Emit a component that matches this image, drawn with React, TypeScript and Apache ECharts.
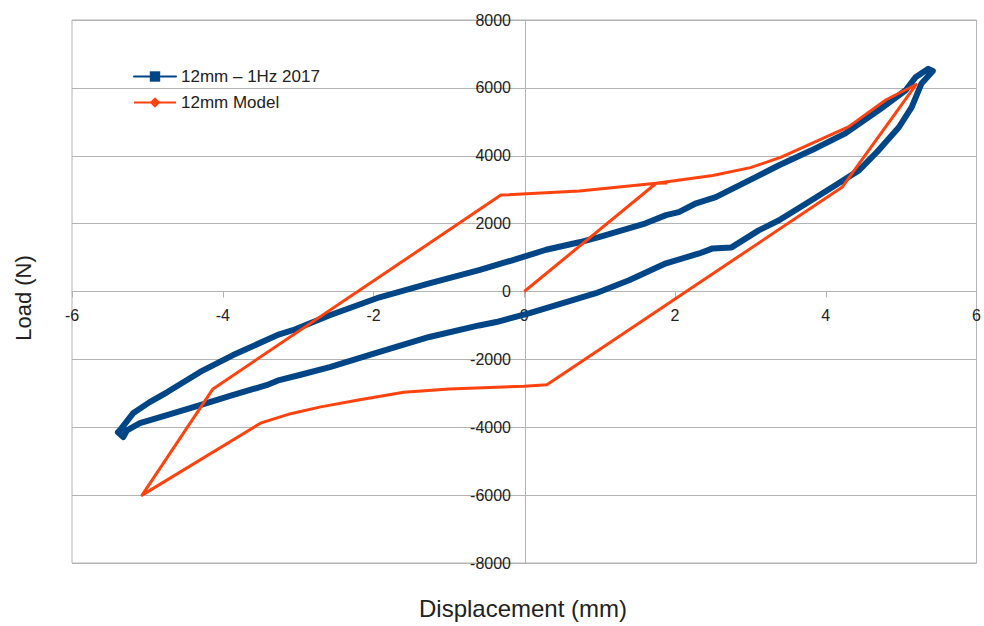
import React, { useEffect, useRef } from "react";
import * as echarts from "echarts";

const xTicks = { min: -6, max: 6, interval: 2 };
const yTicks = { min: -8000, max: 8000, interval: 2000 };

const seriesNames = ["12mm – 1Hz 2017", "12mm Model"];

// Measured hysteresis loop (displacement mm, load N)
const testX = [
  -5.39, -5.35, -5.19, -4.97, -4.74, -4.3, -3.87, -3.42, -3.25, -3.07, -2.58, -1.92, -1.26, -0.6, -0.16, 0.29, 0.73, 0.99,
  1.17, 1.61, 1.88, 2.05, 2.28, 2.54, 3.07, 3.38, 3.81, 4.26, 4.7, 5.06, 5.19, 5.36, 5.42,
  5.27, 5.14, 4.97, 4.7, 4.44, 4.17, 3.81, 3.38, 3.11, 2.75, 2.5, 2.32, 1.88, 1.39, 0.95, 0.5, 0.07, -0.37, -0.6,
  -1.26, -1.92, -2.58, -2.98, -3.25, -3.42, -3.87, -4.3, -4.74, -5.1, -5.27, -5.32, -5.39,
];
const testY = [
  -4150, -4050, -3590, -3260, -2970, -2370, -1880, -1430, -1260, -1140, -700, -170, 240, 630, 920, 1230, 1450, 1600,
  1720, 2010, 2250, 2340, 2600, 2780, 3370, 3720, 4160, 4660, 5340, 5930, 6310, 6560, 6500,
  6130, 5430, 4840, 4160, 3570, 3190, 2690, 2100, 1800, 1300, 1270, 1120, 830, 330, -50, -350, -640, -900, -1000,
  -1340, -1780, -2230, -2460, -2610, -2760, -3050, -3350, -3640, -3880, -4090, -4290, -4150,
];

// Model curve
const modelX = [
  0, 1.75, 2.5, 3.0, 3.4, 3.8, 4.3, 4.8, 5.2, 4.22, 0.3, 0, -1, -1.6, -2.2, -2.7, -3.1, -3.5, -5.07, -4.13, -0.31, 0.73,
  1.75, 1.9,
];
const modelY = [
  0, 3190, 3420, 3650, 3950, 4350, 4850, 5650, 6100, 3080, -2750, -2790, -2870, -2970, -3200, -3400, -3600, -3880, -6000,
  -2870, 2840, 2960, 3190, 3200,
];

const BLUE = "#004586";
const ORANGE = "#ff420e";
const GRID = "#b3b3b3";
const FONT = "Liberation Sans";

const GRID_LEFT = 72;
const GRID_RIGHT = 6;
const GRID_TOP = 20;
const GRID_BOTTOM = 63;
const CHART_W = 984;
const CHART_H = 626;

export default function App() {
  const ref = useRef<HTMLDivElement>(null);
  useEffect(() => {
    if (!ref.current) return;
    const chart = echarts.init(ref.current, null, { renderer: "svg" });
    const testData = testX.map((x, i) => [x, testY[i]]);
    const modelData = modelX.map((x, i) => [x, modelY[i]]);
    const plotW = CHART_W - GRID_LEFT - GRID_RIGHT;
    const plotH = CHART_H - GRID_TOP - GRID_BOTTOM;
    // axes cross at zero (middle of symmetric ranges)
    const xOffset = -plotH * ((0 - yTicks.min) / (yTicks.max - yTicks.min));
    const yOffset = -plotW * ((0 - xTicks.min) / (xTicks.max - xTicks.min));
    chart.setOption({
      animation: false,
      backgroundColor: "#ffffff",
      grid: {
        left: GRID_LEFT,
        right: GRID_RIGHT,
        top: GRID_TOP,
        bottom: GRID_BOTTOM,
        show: true,
        borderColor: GRID,
        borderWidth: 1,
      },
      legend: {
        left: 128,
        top: 63,
        orient: "vertical",
        itemWidth: 42,
        itemHeight: 13,
        itemGap: 9,
        textStyle: { fontSize: 17, color: "#222", fontFamily: FONT },
        data: seriesNames,
      },
      xAxis: {
        type: "value",
        position: "bottom",
        offset: xOffset,
        min: xTicks.min,
        max: xTicks.max,
        interval: xTicks.interval,
        axisLine: { onZero: false, lineStyle: { color: GRID, width: 1 } },
        axisTick: { show: true, length: 6, lineStyle: { color: GRID } },
        splitLine: { show: false },
        axisLabel: { fontSize: 16, color: "#222", fontFamily: FONT, margin: 16, formatter: (v: number) => String(v) },
      },
      yAxis: {
        type: "value",
        position: "left",
        offset: yOffset,
        min: yTicks.min,
        max: yTicks.max,
        interval: yTicks.interval,
        axisLine: { onZero: false, lineStyle: { color: GRID, width: 1 } },
        axisTick: { show: true, length: 6, lineStyle: { color: GRID } },
        splitLine: { show: true, lineStyle: { color: GRID, width: 1 } },
        axisLabel: { fontSize: 16, color: "#222", fontFamily: FONT, margin: 14, formatter: (v: number) => String(v) },
      },
      graphic: [
        {
          type: "text",
          x: 523,
          y: 608,
          style: {
            text: "Displacement (mm)",
            fontSize: 24,
            fontFamily: FONT,
            fill: "#222",
            textAlign: "center",
            textVerticalAlign: "middle",
          },
        },
        {
          type: "text",
          x: 23,
          y: 298,
          rotation: Math.PI / 2,
          style: {
            text: "Load (N)",
            fontSize: 22,
            fontFamily: FONT,
            fill: "#222",
            textAlign: "center",
            textVerticalAlign: "middle",
          },
        },
      ],
      series: [
        {
          name: seriesNames[0],
          type: "line",
          data: testData,
          showSymbol: false,
          symbol: "rect",
          symbolSize: 10,
          color: BLUE,
          lineStyle: { color: BLUE, width: 6, cap: "round", join: "round" },
        },
        {
          name: seriesNames[1],
          type: "line",
          data: modelData,
          showSymbol: false,
          symbol: "diamond",
          symbolSize: 10,
          color: ORANGE,
          lineStyle: { color: ORANGE, width: 3, join: "round" },
        },
      ],
    });
    return () => chart.dispose();
  }, []);
  return <div ref={ref} style={{ width: CHART_W, height: CHART_H, position: "absolute", left: 0, top: 0 }} />;
}
